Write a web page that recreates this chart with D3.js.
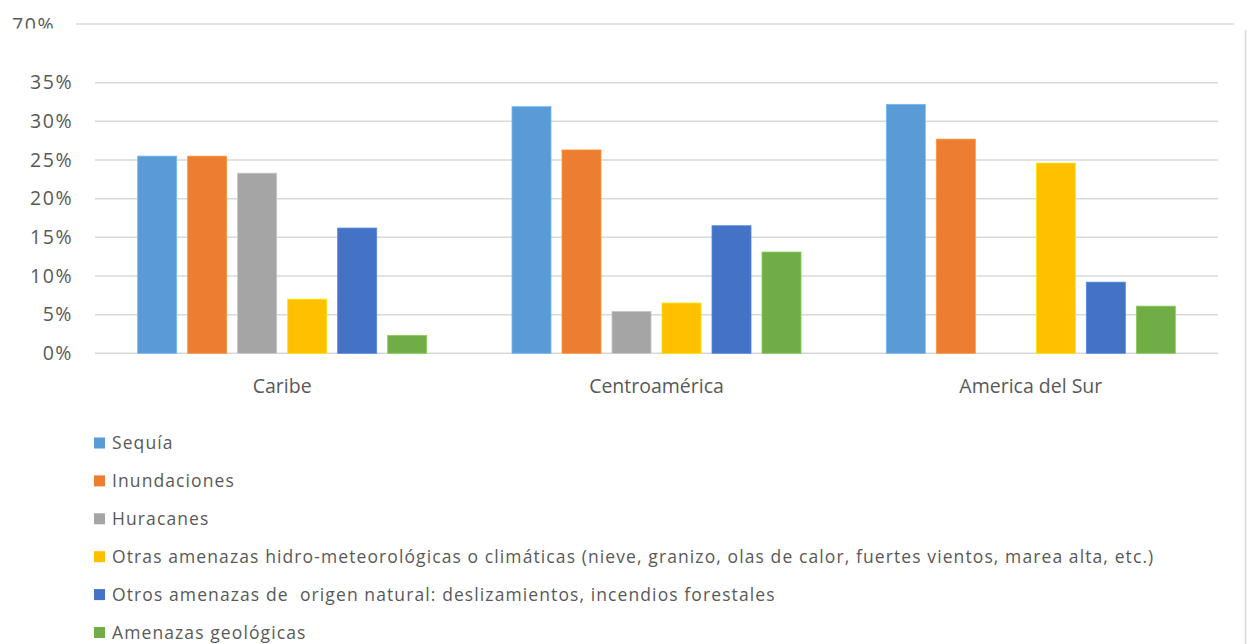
<!DOCTYPE html>
<html>
<head>
<meta charset="utf-8">
<script src="https://cdn.jsdelivr.net/npm/d3@7"></script>
<style>
  html, body { margin: 0; padding: 0; background: #fff; }
  svg { display: block; font-family: "Open Sans", "Noto Sans", sans-serif; }
</style>
</head>
<body>
<svg id="chart" width="1248" height="644"></svg>
<script>
const categories = ["Caribe", "Centroamérica", "America del Sur"];
const seriesNames = [
  "Sequía",
  "Inundaciones",
  "Huracanes",
  "Otras amenazas hidro-meteorológicas o climáticas (nieve, granizo, olas de calor, fuertes vientos, marea alta, etc.)",
  "Otros amenazas de  origen natural: deslizamientos, incendios forestales",
  "Amenazas geológicas"
];
const sequia       = [25.5, 31.9, 32.2];
const inundaciones = [25.5, 26.3, 27.7];
const huracanes    = [23.3, 5.4, 0];
const otrasHidro   = [7.0, 6.5, 24.6];
const otrosNatural = [16.2, 16.5, 9.2];
const geologicas   = [2.3, 13.1, 6.1];
const seriesValues = [sequia, inundaciones, huracanes, otrasHidro, otrosNatural, geologicas];
const colors = ["#5B9BD5", "#ED7D31", "#A5A5A5", "#FFC000", "#4472C4", "#70AD47"];
const tickValues = [0, 5, 10, 15, 20, 25, 30, 35];
const tickLabels = ["0%", "5%", "10%", "15%", "20%", "25%", "30%", "35%"];
const topTickValue = 70;
const topTickLabel = "70%";

const svg = d3.select("#chart");
const textColor = "#595959";
const gridColor = "#D9D9D9";

const plotLeft = 95, plotRight = 1218;

// y scale (axis has a break between 35% and 70%)
const y = d3.scaleLinear().domain([0, 35, 70]).range([353.3, 82.7, 24]);

const x0 = d3.scaleBand().domain(categories).range([plotLeft, plotRight]).padding(0);
const x1 = d3.scaleBand().domain(d3.range(seriesNames.length))
  .range([0, x0.bandwidth()]).paddingInner(0.22).paddingOuter(0.853);

// right border
svg.append("line")
  .attr("x1", 1245.5).attr("x2", 1245.5).attr("y1", 30).attr("y2", 644)
  .attr("stroke", "#D9D9D9").attr("stroke-width", 1.5);

// gridlines
const grid = svg.append("g");
tickValues.forEach(v => {
  grid.append("line")
    .attr("x1", plotLeft).attr("x2", plotRight)
    .attr("y1", y(v)).attr("y2", y(v))
    .attr("stroke", gridColor).attr("stroke-width", 1.5);
});
grid.append("line")
  .attr("x1", 76).attr("x2", 1234)
  .attr("y1", y(topTickValue)).attr("y2", y(topTickValue))
  .attr("stroke", gridColor).attr("stroke-width", 1.5);

// y axis labels
const yAxis = d3.axisLeft(y).tickValues(tickValues)
  .tickFormat((d, i) => tickLabels[i]).tickSize(0).tickPadding(0);
const yg = svg.append("g").attr("transform", "translate(73,0)").call(yAxis);
yg.select(".domain").remove();
yg.selectAll("text")
  .attr("fill", textColor).attr("font-size", 19.5)
  .attr("font-family", "'Open Sans', sans-serif")
  .style("letter-spacing", "1.5px");

// top (cropped) 70% label
svg.append("clipPath").attr("id", "topclip")
  .append("rect").attr("x", 0).attr("y", 0).attr("width", 75).attr("height", 28.5);
svg.append("text")
  .attr("clip-path", "url(#topclip)")
  .attr("x", 55).attr("y", 32)
  .attr("text-anchor", "end")
  .attr("fill", textColor).attr("font-size", 19.5)
  .style("letter-spacing", "1.5px")
  .text(topTickLabel);

// bars
const barG = svg.append("g");
categories.forEach((c, ci) => {
  seriesValues.forEach((vals, si) => {
    const v = vals[ci];
    if (!v) return;
    barG.append("rect")
      .attr("x", x0(c) + x1(si))
      .attr("y", y(v))
      .attr("width", x1.bandwidth())
      .attr("height", y(0) - y(v))
      .attr("fill", colors[si])
      .attr("stroke", d3.color(colors[si]).brighter(0.5))
      .attr("stroke-width", 0.8);
  });
});

// category labels
svg.append("g").selectAll("text").data(categories).join("text")
  .attr("x", d => x0(d) + x0.bandwidth() / 2)
  .attr("y", 393)
  .attr("text-anchor", "middle")
  .attr("fill", textColor)
  .attr("font-size", 19.5)
  .text(d => d);

// legend
const legend = svg.append("g");
seriesNames.forEach((name, i) => {
  const cy = 443 + i * 37.9;
  legend.append("rect")
    .attr("x", 94).attr("y", cy - 5.5).attr("width", 11).attr("height", 11)
    .attr("fill", colors[i]);
  legend.append("text")
    .attr("x", 112).attr("y", cy).attr("dy", "0.36em")
    .attr("fill", textColor).attr("font-size", 17.5)
    .style("letter-spacing", "1.1px")
    .style("white-space", "pre")
    .text(name);
});
</script>
</body>
</html>
